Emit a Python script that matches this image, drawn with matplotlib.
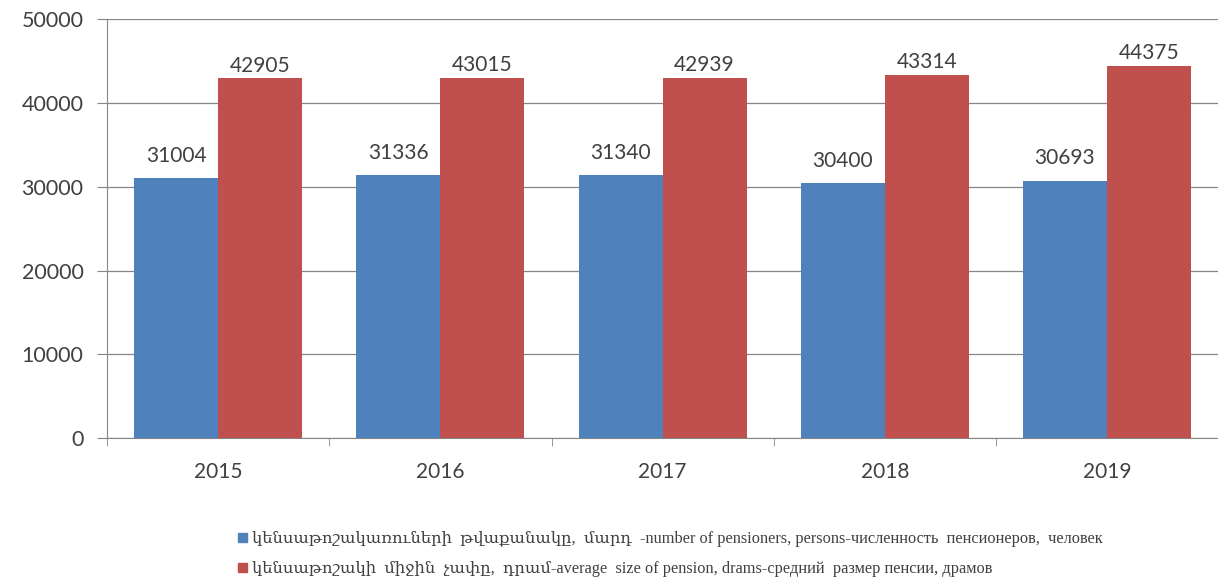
import matplotlib.pyplot as plt
import numpy as np
from matplotlib.patches import Patch

annees = ["2015", "2016", "2017", "2018", "2019"]
pensionnes = [31004, 31336, 31340, 30400, 30693]
pension_moy = [42905, 43015, 42939, 43314, 44375]
legende = [
    "կենսաթոշակառուների  թվաքանակը,  մարդ  -number of pensioners, persons-численность  пенсионеров,  человек",
    "կենսաթոշակի  միջին  չափը,  դրամ-average  size of pension, drams-средний  размер пенсии, драмов",
]
bleu = "#4F81BD"
rouge = "#C0504D"

plt.rcParams['font.family'] = ['Lato', 'DejaVu Sans']

fig = plt.figure(figsize=(12.18, 5.85), dpi=100)
ax = fig.add_axes([0.088, 0.251, 0.912, 0.7165])

x = np.arange(len(annees))
w = 0.378
b1 = ax.bar(x - w/2, pensionnes, w, color=bleu, zorder=3)
b2 = ax.bar(x + w/2, pension_moy, w, color=rouge, zorder=3)

# etiquettes au-dessus des barres
for barres, dec in ((b1, 9), (b2, 2)):
    for b in barres:
        ax.annotate(str(int(b.get_height())), (b.get_x() + b.get_width()/2, b.get_height()),
                    xytext=(0, dec), textcoords="offset points", ha="center", va="bottom",
                    fontsize=15, color="#404040")

ax.set_xlim(-0.5, len(annees) - 0.5)
ax.set_ylim(0, 50000)
ax.set_yticks(range(0, 50001, 10000))
ax.set_xticks(x)
ax.set_xticklabels(annees)
ax.set_xticks(np.arange(-0.5, len(annees), 1), minor=True)
ax.tick_params(axis="x", which="major", length=0, pad=17, labelsize=15, labelcolor="#404040")
ax.tick_params(axis="x", which="minor", length=6, color="#868686", direction="out")
ax.tick_params(axis="y", length=7, color="#868686", labelsize=15.5, labelcolor="#404040", pad=10)
ax.grid(axis="y", color="#868686", linewidth=0.9, zorder=0)
for s in ("top", "right"):
    ax.spines[s].set_visible(False)
for s in ("left", "bottom"):
    ax.spines[s].set_color("#868686")

poignees = [Patch(color=bleu), Patch(color=rouge)]
fig.legend(poignees, legende, loc="upper left", bbox_to_anchor=(0.183, 0.117), frameon=False,
           handlelength=0.55, handleheight=0.55, handletextpad=0.3, labelspacing=0.85,
           prop={"family": ["Liberation Serif", "DejaVu Serif"], "size": 11.8}, labelcolor="#404040")

fig.savefig("out.png", dpi=100)
